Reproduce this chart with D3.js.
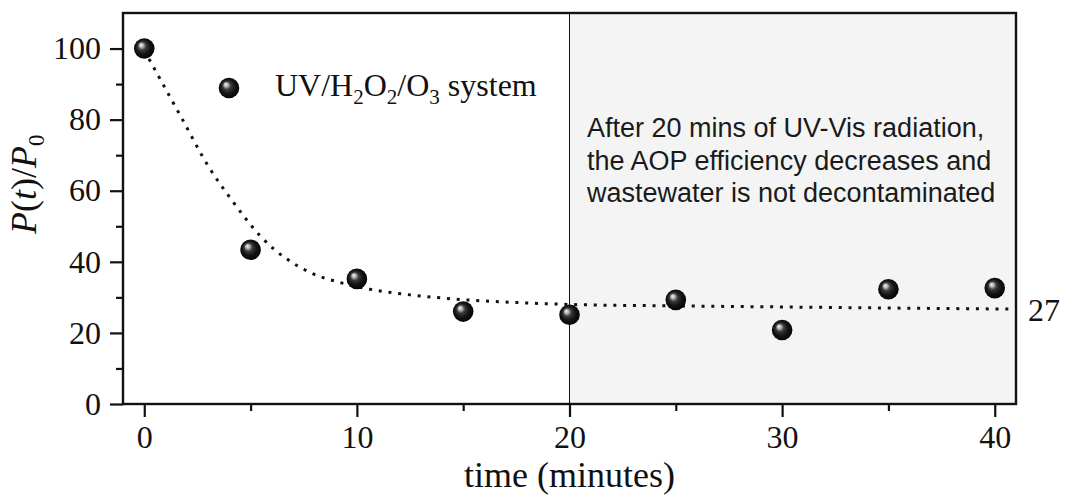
<!DOCTYPE html>
<html>
<head>
<meta charset="utf-8">
<script src="https://cdn.jsdelivr.net/npm/d3@7"></script>
<style>
  html, body { margin: 0; padding: 0; background: #fff; }
  svg { display: block; }
  .serif { font-family: "Liberation Serif", "Times New Roman", serif; fill: #111; }
  .note { font-family: "Liberation Sans", Arial, sans-serif; fill: #1a1a1a; }
</style>
</head>
<body>
<div id="chart"></div>
<script>
const times = [0, 5, 10, 15, 20, 25, 30, 35, 40];
const values = [100, 43.4, 35.2, 26.0, 25.1, 29.3, 20.8, 32.3, 32.6];

// fitted curve
const fitTime = [0, 1.8, 3.0, 4.1, 5.5, 7.8, 9.2, 10.6, 12.5, 14.9, 17.7, 20, 25, 30, 35, 41];
const fitValue = [99.5, 80.0, 67.0, 57.5, 47.0, 37.0, 34.2, 32.3, 30.7, 29.4, 28.5, 28.0, 27.6, 27.3, 27.0, 26.7];

const xMajor = [0, 10, 20, 30, 40];
const xMinor = [5, 15, 25, 35];
const yMajor = [0, 20, 40, 60, 80, 100];
const yMinor = [10, 30, 50, 70, 90];

const shadeStart = 20;
const asymptoteLabel = "27";
const legendParts = [["UV/H", false], ["2", true], ["O", false], ["2", true], ["/O", false], ["3", true], [" system", false]];
const noteLines = [
  "After 20 mins of UV-Vis radiation,",
  "the AOP efficiency decreases and",
  "wastewater is not decontaminated"
];

const width = 1065;
const height = 499;
const margin = { top: 13, right: 49, bottom: 95, left: 123 };

const x = d3.scaleLinear().domain([-1, 41]).range([margin.left, width - margin.right]);
const y = d3.scaleLinear().domain([0, 110]).range([height - margin.bottom, margin.top]);

const svg = d3.select("#chart").append("svg")
  .attr("width", width)
  .attr("height", height);

const defs = svg.append("defs");
const grad = defs.append("radialGradient")
  .attr("id", "ball")
  .attr("cx", "50%").attr("cy", "50%").attr("r", "55%")
  .attr("fx", "33%").attr("fy", "31%");
grad.append("stop").attr("offset", "0%").attr("stop-color", "#f6f6f6");
grad.append("stop").attr("offset", "18%").attr("stop-color", "#b4b4b4");
grad.append("stop").attr("offset", "36%").attr("stop-color", "#3c3c3c");
grad.append("stop").attr("offset", "62%").attr("stop-color", "#151515");
grad.append("stop").attr("offset", "100%").attr("stop-color", "#000");

defs.append("clipPath").attr("id", "plot-clip")
  .append("rect")
  .attr("x", x.range()[0]).attr("y", y.range()[1])
  .attr("width", x.range()[1] - x.range()[0])
  .attr("height", y.range()[0] - y.range()[1]);

// shaded region after 20 min
svg.append("rect")
  .attr("x", x(shadeStart))
  .attr("y", y(110))
  .attr("width", x(41) - x(shadeStart))
  .attr("height", y(0) - y(110))
  .attr("fill", "#f4f4f4");

svg.append("line")
  .attr("x1", x(shadeStart)).attr("x2", x(shadeStart))
  .attr("y1", y(110)).attr("y2", y(0))
  .attr("stroke", "#111")
  .attr("stroke-width", 1);

// annotation
const note = svg.append("text")
  .attr("class", "note")
  .attr("font-size", 27);
noteLines.forEach((line, i) => {
  note.append("tspan")
    .attr("x", 587)
    .attr("y", 137 + i * 32.5)
    .text(line);
});

// fitted curve
const fitLine = d3.line()
  .x((d, i) => x(fitTime[i]))
  .y((d) => y(d))
  .curve(d3.curveMonotoneX);

svg.append("path")
  .attr("clip-path", "url(#plot-clip)")
  .attr("d", fitLine(fitValue))
  .attr("fill", "none")
  .attr("stroke", "#111")
  .attr("stroke-width", 3)
  .attr("stroke-dasharray", "3,6.8");

svg.append("text")
  .attr("class", "serif")
  .attr("font-size", 32)
  .attr("x", 1028)
  .attr("y", y(fitValue[fitValue.length - 1]) + 12)
  .text(asymptoteLabel);

// axes
function styleAxis(g) {
  g.select(".domain").remove();
  g.selectAll(".tick line").attr("stroke", "#111").attr("stroke-width", 2.2);
  g.selectAll(".tick text")
    .attr("class", "serif")
    .attr("fill", "#111")
    .attr("font-size", 32);
}

svg.append("g")
  .attr("transform", `translate(0,${y(0)})`)
  .call(d3.axisBottom(x).tickValues(xMajor).tickSize(13).tickPadding(8).tickFormat(d3.format("d")))
  .call(styleAxis);

svg.append("g")
  .attr("transform", `translate(0,${y(0)})`)
  .call(d3.axisBottom(x).tickValues(xMinor).tickSize(7).tickFormat(""))
  .call(styleAxis);

svg.append("g")
  .attr("transform", `translate(${x(-1)},0)`)
  .call(d3.axisLeft(y).tickValues(yMajor).tickSize(13).tickPadding(9).tickFormat(d3.format("d")))
  .call(styleAxis);

svg.append("g")
  .attr("transform", `translate(${x(-1)},0)`)
  .call(d3.axisLeft(y).tickValues(yMinor).tickSize(7).tickFormat(""))
  .call(styleAxis);

// frame
svg.append("rect")
  .attr("x", x(-1))
  .attr("y", y(110))
  .attr("width", x(41) - x(-1))
  .attr("height", y(0) - y(110))
  .attr("fill", "none")
  .attr("stroke", "#111")
  .attr("stroke-width", 2.4);

// data points
svg.selectAll(".pt")
  .data(values)
  .enter()
  .append("circle")
  .attr("class", "pt")
  .attr("cx", (d, i) => x(times[i]))
  .attr("cy", (d) => y(d))
  .attr("r", 10.3)
  .attr("fill", "url(#ball)");

// legend
svg.append("circle")
  .attr("cx", 229)
  .attr("cy", 88)
  .attr("r", 10.3)
  .attr("fill", "url(#ball)");

const leg = svg.append("text")
  .attr("class", "serif")
  .attr("font-size", 32)
  .attr("x", 275)
  .attr("y", 96);
let shifted = 0;
legendParts.forEach(([t, sub]) => {
  const target = sub ? 8 : 0;
  leg.append("tspan")
    .attr("font-size", sub ? 21 : 32)
    .attr("dy", target - shifted)
    .text(t);
  shifted = target;
});

// axis titles
svg.append("text")
  .attr("class", "serif")
  .attr("font-size", 36)
  .attr("text-anchor", "middle")
  .attr("x", x(20))
  .attr("y", 487)
  .text("time (minutes)");

const yl = svg.append("text")
  .attr("class", "serif")
  .attr("font-size", 36)
  .attr("transform", "translate(36,234) rotate(-90)");
yl.append("tspan").attr("font-style", "italic").text("P");
yl.append("tspan").text("(");
yl.append("tspan").attr("font-style", "italic").text("t");
yl.append("tspan").text(")/");
yl.append("tspan").attr("font-style", "italic").text("P");
yl.append("tspan").attr("font-size", 23).attr("dy", 8).text("0");
</script>
</body>
</html>
